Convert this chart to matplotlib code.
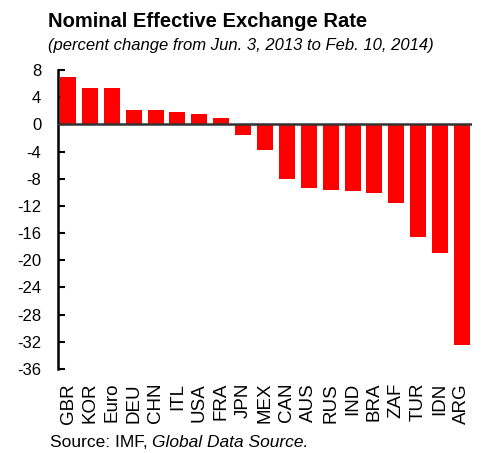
import numpy as np
import matplotlib
matplotlib.use("Agg")
import matplotlib.pyplot as plt

plt.rcParams['font.family'] = ['Liberation Sans', 'DejaVu Sans']

# percent change, Jun. 3 2013 to Feb. 10 2014
countries = ['GBR', 'KOR', 'Euro', 'DEU', 'CHN', 'ITL', 'USA', 'FRA', 'JPN',
             'MEX', 'CAN', 'AUS', 'RUS', 'IND', 'BRA', 'ZAF', 'TUR', 'IDN', 'ARG']
changes = [6.9, 5.3, 5.3, 2.1, 2.1, 1.8, 1.5, 0.9, -1.6,
           -3.8, -8.1, -9.4, -9.7, -9.8, -10.1, -11.5, -16.6, -18.9, -32.5]
yticks = list(range(8, -37, -4))

W, H = 483, 453
fig = plt.figure(figsize=(W / 100, H / 100), dpi=100)
ax = fig.add_axes([58 / W, 1 - 369 / H, (472 - 58) / W, (369 - 70) / H])

x = np.arange(len(countries))
ax.bar(x, changes, width=0.73, color='#ff0000', zorder=2)
ax.axhline(0, color='#333333', lw=1.8, zorder=3)

ax.set_xlim(-0.46, len(countries) - 0.54)
ax.set_ylim(-36, 8)
ax.set_yticks(yticks)
ax.set_yticklabels([str(t) for t in yticks], fontsize=12)
ax.set_xticks(x)
ax.set_xticklabels(countries, rotation=90, fontsize=13.5)
ax.tick_params(axis='x', length=0, pad=10)
ax.tick_params(axis='y', direction='in', length=5, width=1.5, pad=12)

for s in ['top', 'right', 'bottom']:
    ax.spines[s].set_visible(False)
ax.spines['left'].set_linewidth(1.8)

fig.text(48 / W, 1 - 27 / H, 'Nominal Effective Exchange Rate',
         fontsize=14.5, fontweight='bold', ha='left', va='baseline')
fig.text(48 / W, 1 - 50 / H, '(percent change from Jun. 3, 2013 to Feb. 10, 2014)',
         fontsize=12, style='italic', ha='left', va='baseline')

# source line: plain text with italic publication name
src = fig.text(50 / W, 1 - 447 / H, 'Source: IMF, ', fontsize=12.5,
               ha='left', va='baseline')
fig.canvas.draw()
bb = src.get_window_extent()
fig.text(bb.x1 / W, 1 - 447 / H, 'Global Data Source.', fontsize=12.5,
         style='italic', ha='left', va='baseline')

fig.savefig('out.png', dpi=100)
